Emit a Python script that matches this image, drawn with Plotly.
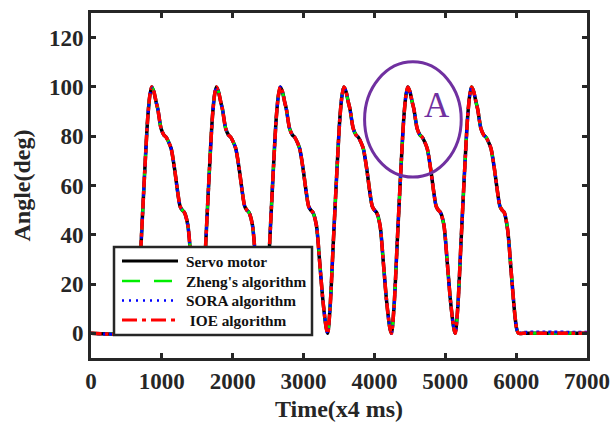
import plotly.graph_objects as go

# ---- data ----
time_ms = [0, 590, 623, 661, 708, 755, 802, 833, 858, 888, 918, 943, 990, 1028, 1063, 1098, 1131, 1178, 1225, 1258, 1288, 1319, 1366, 1413, 1460, 1507, 1533,
           1573, 1620, 1667, 1714, 1745, 1770, 1800, 1830, 1855, 1902, 1940, 1975, 2010, 2043, 2090, 2137, 2170, 2200, 2231, 2278, 2325, 2372, 2419, 2440,
           2475, 2522, 2569, 2616, 2647, 2672, 2702, 2732, 2757, 2804, 2842, 2877, 2912, 2945, 2992, 3039, 3072, 3102, 3133, 3180, 3227, 3274, 3321, 3340,
           3373, 3420, 3467, 3514, 3545, 3570, 3600, 3630, 3655, 3702, 3740, 3775, 3810, 3843, 3890, 3937, 3970, 4000, 4031, 4078, 4125, 4172, 4219, 4240,
           4275, 4322, 4369, 4416, 4447, 4472, 4502, 4532, 4557, 4604, 4642, 4677, 4712, 4745, 4792, 4839, 4872, 4902, 4933, 4980, 5027, 5074, 5121, 5140,
           5175, 5222, 5269, 5316, 5347, 5372, 5402, 5432, 5457, 5504, 5542, 5577, 5612, 5645, 5692, 5739, 5772, 5802, 5833, 5880, 5930, 5980, 6010, 6035,
           6100, 7000]
servo = [0, 0, 1, 10, 37, 64, 88, 97, 100, 98, 94, 91, 83, 80.5, 79.5, 77.5, 75, 67, 57, 51.5, 50, 49, 44, 29, 13, 2, 0,
         10, 37, 64, 88, 97, 100, 98, 94, 91, 83, 80.5, 79.5, 77.5, 75, 67, 57, 51.5, 50, 49, 44, 29, 13, 2, 0,
         10, 37, 64, 88, 97, 100, 98, 94, 91, 83, 80.5, 79.5, 77.5, 75, 67, 57, 51.5, 50, 49, 44, 29, 13, 2, 0,
         10, 37, 64, 88, 97, 100, 98, 94, 91, 83, 80.5, 79.5, 77.5, 75, 67, 57, 51.5, 50, 49, 44, 29, 13, 2, 0,
         10, 37, 64, 88, 97, 100, 98, 94, 91, 83, 80.5, 79.5, 77.5, 75, 67, 57, 51.5, 50, 49, 44, 29, 13, 2, 0,
         10, 37, 64, 88, 97, 100, 98, 94, 91, 83, 80.5, 79.5, 77.5, 75, 67, 57, 51.5, 50, 49, 42, 25, 8, 1.5, 0,
         0, 0]
zheng = list(servo)
sora = servo[:-2] + [0.4, 0.4]
ioe = list(servo)

series_names = ["Servo motor", "Zheng's algorithm", "SORA algorithm", "\u00a0IOE algorithm"]
series_values = [servo, zheng, sora, ioe]
series_colors = ["#000000", "#00EE00", "#0000FF", "#FF0000"]
series_dash = ["solid", "dash", "dot", "dashdot"]
legend_dash = ["solid", "18px,14px", "2px,5px", "15px,5px,4px,5px"]
series_width = [3.5, 3, 3, 3.5]

x_ticks = [0, 1000, 2000, 3000, 4000, 5000, 6000, 7000]
y_ticks = [0, 20, 40, 60, 80, 100, 120]

AX = "#262626"
FONT = "Liberation Serif"
W, H = 613, 423
ML, MR, MT, MB = 91, 26, 13, 65
PW, PH = W - ML - MR, H - MT - MB


def px_x(p):
    return (p - ML) / PW


def px_y(p):
    return (H - MB - p) / PH


fig = go.Figure()
for name, vals, col, dash, w in zip(series_names, series_values, series_colors, series_dash, series_width):
    fig.add_trace(go.Scatter(x=time_ms, y=vals, mode="lines", name=name, showlegend=False,
                             line=dict(color=col, dash=dash, width=w, shape="spline", smoothing=0.8)))

# circled region "A"
fig.add_shape(type="circle", xref="x", yref="y", x0=3861, x1=5225, y0=63.4, y1=110.2,
              line=dict(color="#7030A0", width=3))
fig.add_annotation(x=4888, y=92.4, xref="x", yref="y", text="A", showarrow=False,
                   font=dict(family=FONT, size=35, color="#7030A0"))

# legend box (drawn like the original's boxed legend)
fig.add_shape(type="rect", xref="paper", yref="paper",
              x0=px_x(114), x1=px_x(312), y0=px_y(335), y1=px_y(247),
              line=dict(color=AX, width=2.5), fillcolor="white", layer="above")
rows = [261, 281, 300.5, 320]
for name, col, dash, w, ry in zip(series_names, series_colors, legend_dash, series_width, rows):
    fig.add_shape(type="line", xref="paper", yref="paper",
                  x0=px_x(122), x1=px_x(178), y0=px_y(ry), y1=px_y(ry),
                  line=dict(color=col, width=w - 0.5, dash=dash), layer="above")
    fig.add_annotation(xref="paper", yref="paper", x=px_x(184), y=px_y(ry),
                       xanchor="left", yanchor="middle", showarrow=False,
                       text="<b>" + name + "</b>",
                       font=dict(family=FONT, size=15.3, color="#111111"))

axis_common = dict(showline=True, linewidth=3, linecolor=AX, mirror="ticks",
                   ticks="inside", ticklen=5, tickwidth=3, tickcolor=AX,
                   showgrid=False, zeroline=False, automargin=False,
                   tickfont=dict(family=FONT, size=23, color=AX, weight="bold"))

fig.update_layout(
    width=W, height=H,
    margin=dict(l=ML, r=MR, t=MT, b=MB),
    paper_bgcolor="white", plot_bgcolor="white",
    xaxis=dict(range=[0, 7000], tickvals=x_ticks,
               title=dict(text="<b>Time(x4 ms)</b>", font=dict(family=FONT, size=24, color=AX), standoff=8),
               **axis_common),
    yaxis=dict(range=[-10, 130], tickvals=y_ticks,
               title=dict(text="<b>Angle(deg)</b>", font=dict(family=FONT, size=24, color=AX), standoff=12),
               **axis_common),
    showlegend=False,
)

fig.write_html("out.html")
